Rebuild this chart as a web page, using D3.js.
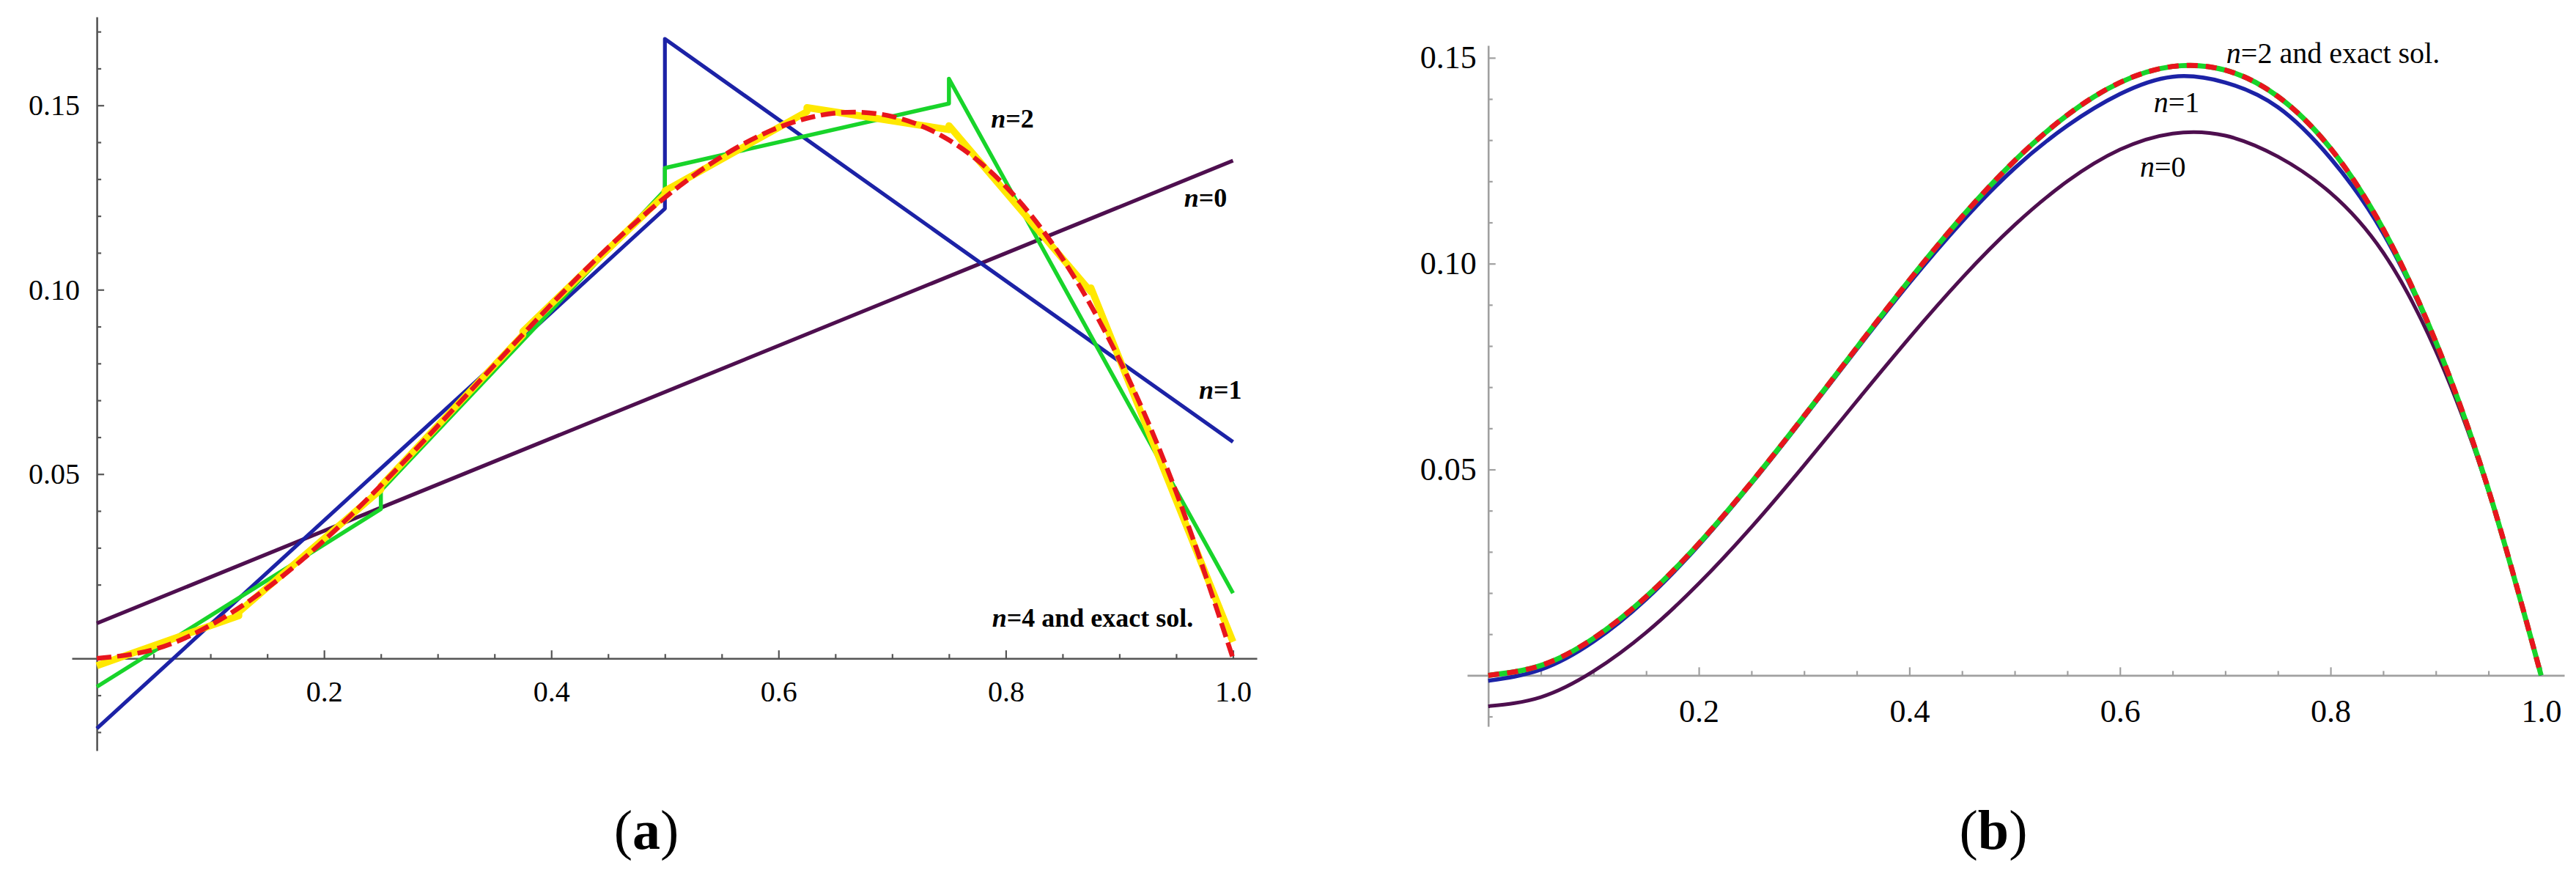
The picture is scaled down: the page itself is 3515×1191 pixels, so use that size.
<!DOCTYPE html>
<html>
<head>
<meta charset="utf-8">
<script src="https://cdn.jsdelivr.net/npm/d3@7"></script>
<style>
  html, body { margin: 0; padding: 0; background: #fff; }
  svg { display: block; }
  .note { font-family: 'Liberation Serif', 'DejaVu Serif', serif; fill: #000; }
</style>
</head>
<body>
<div id="chart"></div>
<script>
// ---- data ----

// sample grid used by the smooth curves
const xGrid = [0, 0.05, 0.1, 0.15, 0.2, 0.25, 0.3, 0.35, 0.4, 0.45, 0.5,
               0.55, 0.6, 0.65, 0.7, 0.75, 0.8, 0.85, 0.9, 0.95, 1.0];

// exact solution (red dashed, both panels)
const exactY = [0, 0.0024, 0.009, 0.0191, 0.032, 0.0469, 0.063, 0.0796, 0.096, 0.1114, 0.125,
                0.1361, 0.144, 0.1479, 0.147, 0.1406, 0.128, 0.1084, 0.081, 0.0451, 0];

// panel (a): piecewise linear approximations (jumps are repeated x values)
const aN0X = [0, 1];
const aN0Y = [0.0095, 0.135];

const aN1X = [0, 0.5, 0.5, 1];
const aN1Y = [-0.019, 0.122, 0.168, 0.0587];

const aN2X = [0, 0.25, 0.25, 0.5, 0.5, 0.75, 0.75, 1];
const aN2Y = [-0.0077, 0.0405, 0.0455, 0.127, 0.133, 0.1505, 0.1572, 0.0177];

const aN4X = [0, 0.125, 0.125, 0.25, 0.25, 0.375, 0.375, 0.5,
              0.5, 0.625, 0.625, 0.75, 0.75, 0.875, 0.875, 1];
const aN4Y = [-0.002, 0.0116, 0.0126, 0.0458, 0.0467, 0.0877, 0.0887, 0.1258,
              0.1268, 0.1483, 0.1494, 0.1434, 0.1445, 0.0994, 0.1005, 0.0045];

// panel (b): smooth approximations on xGrid
const bN0Y = [-0.0075, -0.0053, 0.0010, 0.0104, 0.0223, 0.0360, 0.0510, 0.0666, 0.0820, 0.0965, 0.1094,
              0.1200, 0.1277, 0.1316, 0.1311, 0.1260, 0.1172, 0.1027, 0.0788, 0.0446, 0];
const bN1Y = [-0.0013, 0.0014, 0.0082, 0.0185, 0.0316, 0.0466, 0.0627, 0.0792, 0.0953, 0.1102, 0.1232,
              0.1335, 0.1412, 0.1454, 0.1440, 0.1380, 0.1256, 0.1074, 0.0806, 0.0450, 0];
const bN2Y = exactY; // n=2 coincides with the exact solution

// ticks
const xMajor = [0.2, 0.4, 0.6, 0.8, 1.0];
const xMinor = [0.05, 0.1, 0.15, 0.25, 0.3, 0.35, 0.45, 0.5, 0.55, 0.65, 0.7, 0.75, 0.85, 0.9, 0.95];
const yMajor = [0.05, 0.10, 0.15];
const aYMinor = [-0.02, -0.01, 0.01, 0.02, 0.03, 0.04, 0.06, 0.07, 0.08, 0.09,
                 0.11, 0.12, 0.13, 0.14, 0.16, 0.17];
const bYMinor = [-0.01, 0.01, 0.02, 0.03, 0.04, 0.06, 0.07, 0.08, 0.09, 0.11, 0.12, 0.13, 0.14];

// curve labels: [text after "n", x, y]
const aLabels = [['=2', 0.787, 0.144], ['=0', 0.957, 0.1226], ['=1', 0.970, 0.0705],
                 ['=4 and exact sol.', 0.788, 0.0085]];
const bLabels = [['=2 and exact sol.', 0.701, 0.1488], ['=1', 0.632, 0.1368], ['=0', 0.619, 0.1211]];

// ---- drawing ----
const W = 3515, H = 1191;
const FONT = "'Liberation Serif', 'DejaVu Serif', serif";
const svg = d3.select('#chart').append('svg')
  .attr('width', W)
  .attr('height', H)
  .attr('viewBox', `0 0 ${W} ${H}`);

const colors = { n0: '#4e0f4f', n1: '#1c22a6', n2: '#18d42a', n4: '#ffe800', exact: '#e8151d' };

function drawPanel(cfg) {
  const x = d3.scaleLinear().domain(cfg.xExtent).range(cfg.xRange);
  const y = d3.scaleLinear().domain(cfg.yExtent).range(cfg.yRange);
  const g = svg.append('g');

  // x axis (ticks pointing up into the plot)
  const gx = g.append('g')
    .attr('transform', `translate(0,${y(0)})`)
    .call(d3.axisBottom(x).tickValues(xMajor).tickFormat(d3.format('.1f'))
      .tickSizeInner(-11).tickSizeOuter(0).tickPadding(cfg.xPad));
  g.append('g')
    .attr('transform', `translate(0,${y(0)})`)
    .call(d3.axisBottom(x).tickValues(xMinor).tickFormat('').tickSizeInner(-6).tickSizeOuter(0))
    .call(s => s.select('.domain').remove());

  // y axis (ticks pointing right)
  const gy = g.append('g')
    .attr('transform', `translate(${x(0)},0)`)
    .call(d3.axisLeft(y).tickValues(yMajor).tickFormat(d3.format('.2f'))
      .tickSizeInner(-10).tickSizeOuter(0).tickPadding(cfg.yPad));
  g.append('g')
    .attr('transform', `translate(${x(0)},0)`)
    .call(d3.axisLeft(y).tickValues(cfg.yMinor).tickFormat('').tickSizeInner(-6).tickSizeOuter(0))
    .call(s => s.select('.domain').remove());

  g.selectAll('.domain').attr('stroke', cfg.axisColor).attr('stroke-width', 2.6);
  g.selectAll('.tick line').attr('stroke', cfg.axisColor).attr('stroke-width', 2.2);
  [gx, gy].forEach(a => {
    a.attr('font-family', FONT).attr('font-size', cfg.tickFont);
    a.selectAll('.tick text')
      .attr('fill', '#000')
      .style('font-family', FONT)
      .style('font-size', cfg.tickFont + 'px');
  });

  // series
  cfg.series.forEach(s => {
    const line = d3.line()
      .x(d => x(d[0]))
      .y(d => y(d[1]))
      .curve(s.smooth ? d3.curveNatural : d3.curveLinear);
    g.append('path')
      .datum(d3.zip(s.xs, s.ys))
      .attr('fill', 'none')
      .attr('stroke', s.color)
      .attr('stroke-width', s.width)
      .attr('stroke-linejoin', 'round')
      .attr('stroke-dasharray', s.dash || null)
      .attr('d', line);
  });

  // curve labels
  cfg.labels.forEach(l => {
    const t = g.append('text')
      .attr('class', 'note')
      .attr('x', x(l[1]))
      .attr('y', y(l[2]))
      .attr('font-size', cfg.noteFont)
      .attr('font-weight', cfg.noteWeight);
    t.append('tspan').attr('font-style', 'italic').text('n');
    t.append('tspan').text(l[0]);
  });

  // panel tag
  const tag = g.append('text')
    .attr('class', 'note')
    .attr('x', cfg.tagX)
    .attr('y', 1158)
    .attr('text-anchor', 'middle')
    .attr('font-size', 76);
  tag.append('tspan').text('(');
  tag.append('tspan').attr('font-weight', 'bold').text(cfg.tag);
  tag.append('tspan').text(')');
}

drawPanel({
  xExtent: [-0.022, 1.021], xRange: [98, 1715],
  yExtent: [-0.025, 0.174], yRange: [1024, 23],
  axisColor: '#555', xPad: 30, yPad: 23, tickFont: 40,
  yMinor: aYMinor,
  noteFont: 36, noteWeight: 'bold',
  labels: aLabels, tag: 'a', tagX: 882,
  series: [
    { xs: aN0X, ys: aN0Y, color: colors.n0, width: 5.2 },
    { xs: aN1X, ys: aN1Y, color: colors.n1, width: 5.2 },
    { xs: aN2X, ys: aN2Y, color: colors.n2, width: 5.5 },
    { xs: aN4X, ys: aN4Y, color: colors.n4, width: 9.5 },
    { xs: xGrid, ys: exactY, color: colors.exact, width: 6.5, dash: '20,8', smooth: true }
  ]
});

drawPanel({
  xExtent: [-0.02, 1.022], xRange: [2002, 3499],
  yExtent: [-0.0124, 0.153], yRange: [991, 62],
  axisColor: '#a0a0a0', xPad: 32, yPad: 16, tickFont: 44,
  yMinor: bYMinor,
  noteFont: 40, noteWeight: 'normal',
  labels: bLabels, tag: 'b', tagX: 2720,
  series: [
    { xs: xGrid, ys: bN0Y, color: colors.n0, width: 5, smooth: true },
    { xs: xGrid, ys: bN1Y, color: colors.n1, width: 5.5, smooth: true },
    { xs: xGrid, ys: bN2Y, color: colors.n2, width: 7, smooth: true },
    { xs: xGrid, ys: exactY, color: colors.exact, width: 7, dash: '15,11', smooth: true }
  ]
});
</script>
</body>
</html>
